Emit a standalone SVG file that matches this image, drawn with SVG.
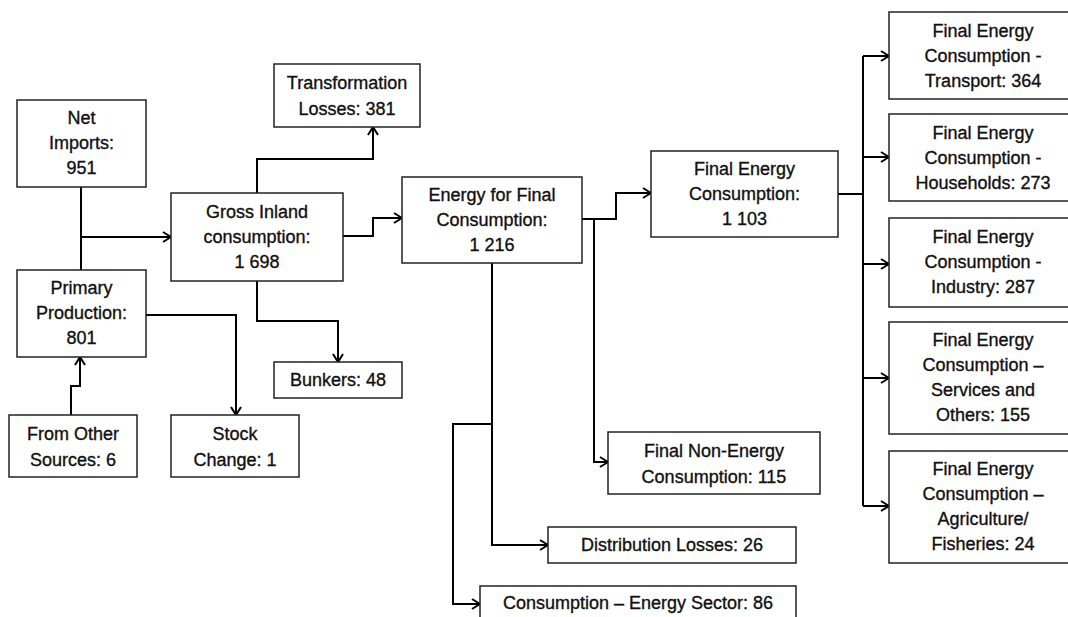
<svg xmlns="http://www.w3.org/2000/svg" width="1068" height="617" viewBox="0 0 1068 617">
  <defs>
    <marker id="arrow" viewBox="0 0 10 12" markerWidth="10" markerHeight="12" refX="9.5" refY="6" orient="auto" markerUnits="userSpaceOnUse">
      <path d="M1.5,1 L9.5,6 L1.5,11" fill="none" stroke="#000" stroke-width="2"/>
    </marker>
    <style>
      .box { fill: #fff; stroke: #222; stroke-width: 1.5; }
      .lbl { font-family: "Liberation Sans", Arial, sans-serif; font-size: 18px; fill: #111; stroke: #111; stroke-width: 0.35; text-anchor: middle; }
      .wire { fill: none; stroke: #000; stroke-width: 2; }
      .arr { marker-end: url(#arrow); }
    </style>
  </defs>
  <rect width="1068" height="617" fill="#fff"/>

  <!-- connectors -->
  <g id="connectors">
    <path class="wire" d="M81,187 V270"/>
    <path class="wire arr" d="M81,237 H171"/>
    <path class="wire arr" d="M257,193 V159 H373 V127"/>
    <path class="wire arr" d="M343,236 H373 V218 H402"/>
    <path class="wire arr" d="M257,281 V321 H338 V362"/>
    <path class="wire arr" d="M146,315 H236 V415"/>
    <path class="wire arr" d="M71,415 V386 H80 V357"/>
    <path class="wire arr" d="M582,219 H616 V193 H651"/>
    <path class="wire arr" d="M594,219 V462 H608"/>
    <path class="wire arr" d="M492,263 V545 H548"/>
    <path class="wire arr" d="M492,424 H453 V604 H480"/>
    <path class="wire" d="M838,194 H863"/>
    <path class="wire" d="M863,56 V506"/>
    <path class="wire arr" d="M863,56 H889"/>
    <path class="wire arr" d="M863,157 H889"/>
    <path class="wire arr" d="M863,264 H889"/>
    <path class="wire arr" d="M863,378 H889"/>
    <path class="wire arr" d="M863,506 H889"/>
  </g>

  <!-- nodes -->
  <g id="net-imports">
    <rect class="box" x="17" y="100" width="129" height="87"/>
    <text class="lbl" x="81.5" y="124">Net</text>
    <text class="lbl" x="81.5" y="149">Imports:</text>
    <text class="lbl" x="81.5" y="174">951</text>
  </g>
  <g id="primary-production">
    <rect class="box" x="17" y="270" width="129" height="87"/>
    <text class="lbl" x="81.5" y="294">Primary</text>
    <text class="lbl" x="81.5" y="319">Production:</text>
    <text class="lbl" x="81.5" y="344">801</text>
  </g>
  <g id="other-sources">
    <rect class="box" x="9" y="415" width="128" height="62"/>
    <text class="lbl" x="73" y="440">From Other</text>
    <text class="lbl" x="73" y="466">Sources: 6</text>
  </g>
  <g id="stock-change">
    <rect class="box" x="171" y="415" width="128" height="62"/>
    <text class="lbl" x="235" y="440">Stock</text>
    <text class="lbl" x="235" y="466">Change: 1</text>
  </g>
  <g id="gross-inland">
    <rect class="box" x="171" y="193" width="172" height="88"/>
    <text class="lbl" x="257" y="218">Gross Inland</text>
    <text class="lbl" x="257" y="243">consumption:</text>
    <text class="lbl" x="257" y="268">1 698</text>
  </g>
  <g id="transformation-losses">
    <rect class="box" x="274" y="64" width="146" height="63"/>
    <text class="lbl" x="347" y="89">Transformation</text>
    <text class="lbl" x="347" y="115">Losses: 381</text>
  </g>
  <g id="bunkers">
    <rect class="box" x="274" y="362" width="128" height="36"/>
    <text class="lbl" x="338" y="386">Bunkers: 48</text>
  </g>
  <g id="energy-final">
    <rect class="box" x="402" y="177" width="180" height="86"/>
    <text class="lbl" x="492" y="201">Energy for Final</text>
    <text class="lbl" x="492" y="226">Consumption:</text>
    <text class="lbl" x="492" y="251">1 216</text>
  </g>
  <g id="final-energy">
    <rect class="box" x="651" y="151" width="187" height="86"/>
    <text class="lbl" x="744.5" y="175">Final Energy</text>
    <text class="lbl" x="744.5" y="200">Consumption:</text>
    <text class="lbl" x="744.5" y="225">1 103</text>
  </g>
  <g id="non-energy">
    <rect class="box" x="608" y="432" width="212" height="62"/>
    <text class="lbl" x="714" y="457">Final Non-Energy</text>
    <text class="lbl" x="714" y="483">Consumption: 115</text>
  </g>
  <g id="distribution-losses">
    <rect class="box" x="548" y="527" width="248" height="36"/>
    <text class="lbl" x="672" y="551">Distribution Losses: 26</text>
  </g>
  <g id="energy-sector">
    <rect class="box" x="480" y="586" width="316" height="40"/>
    <text class="lbl" x="638" y="609">Consumption – Energy Sector: 86</text>
  </g>
  <g id="transport">
    <rect class="box" x="889" y="12" width="190" height="87"/>
    <text class="lbl" x="983" y="37">Final Energy</text>
    <text class="lbl" x="983" y="62">Consumption -</text>
    <text class="lbl" x="983" y="87">Transport: 364</text>
  </g>
  <g id="households">
    <rect class="box" x="889" y="114" width="190" height="87"/>
    <text class="lbl" x="983" y="139">Final Energy</text>
    <text class="lbl" x="983" y="164">Consumption -</text>
    <text class="lbl" x="983" y="189">Households: 273</text>
  </g>
  <g id="industry">
    <rect class="box" x="889" y="218" width="190" height="89"/>
    <text class="lbl" x="983" y="243">Final Energy</text>
    <text class="lbl" x="983" y="268">Consumption -</text>
    <text class="lbl" x="983" y="293">Industry: 287</text>
  </g>
  <g id="services">
    <rect class="box" x="889" y="322" width="190" height="112"/>
    <text class="lbl" x="983" y="346">Final Energy</text>
    <text class="lbl" x="983" y="371">Consumption –</text>
    <text class="lbl" x="983" y="396">Services and</text>
    <text class="lbl" x="983" y="421">Others: 155</text>
  </g>
  <g id="agriculture">
    <rect class="box" x="889" y="451" width="190" height="112"/>
    <text class="lbl" x="983" y="475">Final Energy</text>
    <text class="lbl" x="983" y="500">Consumption –</text>
    <text class="lbl" x="983" y="525">Agriculture/</text>
    <text class="lbl" x="983" y="550">Fisheries: 24</text>
  </g>
</svg>
